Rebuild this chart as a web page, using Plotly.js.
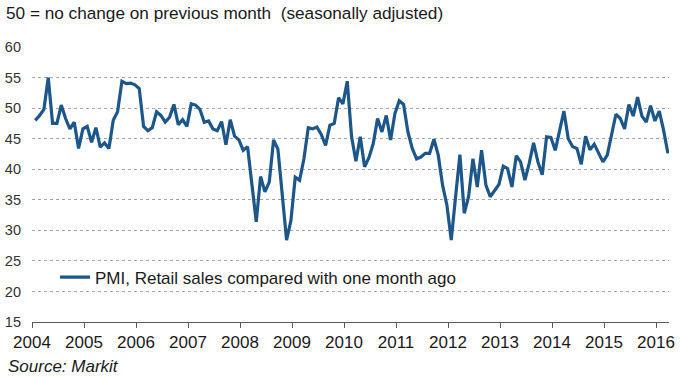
<!DOCTYPE html>
<html><head><meta charset="utf-8">
<script src="https://cdn.plot.ly/plotly-3.0.1.min.js"></script>
<style>html,body{margin:0;padding:0;background:#fff}#chart{width:680px;height:377px}</style>
</head><body><div id="chart"></div>
<script>
const seriesName = 'PMI, Retail sales compared with one month ago';
const chartTitle = '50 = no change on previous month\u00a0 (seasonally adjusted)';
const sourceText = 'Source: Markit';
const firstYear = 2004;
// monthly values, Jan 2004 - Mar 2016
const pmiValues = [
  48.0, 48.8, 49.8, 55.0, 47.5, 47.5, 50.5, 48.3, 46.6, 47.7, 43.4, 46.6,
  47.0, 44.4, 46.8, 43.6, 44.3, 43.4, 48.0, 49.4, 54.4, 54.0, 54.1, 53.8,
  53.2, 47.0, 46.3, 46.8, 49.4, 48.8, 47.7, 48.5, 50.6, 47.3, 48.1, 47.0,
  50.7, 50.5, 49.8, 47.7, 47.9, 46.6, 46.3, 47.8, 44.0, 48.1, 45.4, 44.8,
  43.1, 43.7, 37.5, 31.4, 38.8, 36.3, 37.9, 44.8, 43.3, 36.0, 28.4, 31.6,
  38.7, 38.2, 41.7, 46.8, 46.6, 46.9, 45.7, 43.9, 47.2, 47.5, 51.7, 50.7,
  54.4, 45.3, 41.3, 45.3, 40.4, 41.9, 44.2, 48.3, 46.1, 48.8, 44.8, 49.1,
  51.2, 50.6, 46.1, 43.4, 41.7, 42.0, 42.6, 42.6, 44.9, 42.3, 37.4, 34.1,
  28.4, 35.5, 42.4, 32.8, 35.5, 41.7, 37.1, 43.1, 37.4, 35.5, 36.6, 37.5,
  40.5, 40.1, 37.1, 42.2, 41.2, 38.2, 41.0, 44.3, 41.2, 39.1, 45.3, 45.2,
  43.1, 46.6, 49.5, 45.0, 43.7, 43.4, 40.8, 45.4, 43.2, 44.1, 42.6, 41.2,
  42.3, 45.5, 49.0, 48.3, 46.6, 50.6, 48.7, 51.8, 48.7, 47.7, 50.4, 47.9,
  49.5, 46.4, 42.6
];
const yearTicks = [2004, 2005, 2006, 2007, 2008, 2009, 2010, 2011, 2012, 2013, 2014, 2015, 2016];
const yearLabels = ['2004', '2005', '2006', '2007', '2008', '2009', '2010', '2011', '2012', '2013', '2014', '2015', '2016'];
const valueTicks = [15, 20, 25, 30, 35, 40, 45, 50, 55, 60];

const xMonths = pmiValues.map((v, i) => firstYear + (i + 0.75) / 12);

const trace = {
  x: xMonths, y: pmiValues, type: 'scatter', mode: 'lines', name: seriesName,
  line: {color: '#1d5789', width: 3.2}
};

const layout = {
  width: 680, height: 377,
  margin: {l: 32, r: 11, t: 47, b: 55, pad: 0},
  paper_bgcolor: '#ffffff', plot_bgcolor: '#ffffff',
  font: {family: 'Liberation Sans, Arial, sans-serif', color: '#1a1a1a'},
  title: {text: chartTitle, x: 6 / 680, xref: 'container', xanchor: 'left',
          y: 1 - 13 / 377, yref: 'container', yanchor: 'middle',
          font: {size: 17.2, color: '#1a1a1a'}},
  xaxis: {range: [2004, 2016.25], tickmode: 'array', tickvals: yearTicks, ticktext: yearLabels,
          showgrid: false, zeroline: false, showline: true, linecolor: '#595959', linewidth: 1,
          ticks: 'outside', ticklen: 5, tickwidth: 1, tickcolor: '#595959',
          tickfont: {size: 17, color: '#1a1a1a'}, fixedrange: true},
  yaxis: {range: [15, 60], tickmode: 'array', tickvals: valueTicks,
          showgrid: true, gridcolor: '#a6a6a6', griddash: 'dot', gridwidth: 1,
          zeroline: false, showline: false, ticks: '', ticklabelstandoff: 10,
          tickfont: {size: 14.5, color: '#333333'}, fixedrange: true},
  showlegend: true,
  legend: {x: (55 - 32) / 637, y: (321.7 - 277.3) / 275, xanchor: 'left', yanchor: 'middle',
           bgcolor: 'rgba(0,0,0,0)', borderwidth: 0, font: {size: 17, color: '#1a1a1a'}},
  annotations: [{text: '<i>' + sourceText + '</i>', xref: 'paper', yref: 'paper',
                 x: (6 - 32) / 637, y: (321.7 - 366) / 275, xanchor: 'left', yanchor: 'middle',
                 showarrow: false, font: {size: 17, color: '#1a1a1a'}}]
};

Plotly.newPlot('chart', [trace], layout, {displayModeBar: false, staticPlot: true});
</script></body></html>
